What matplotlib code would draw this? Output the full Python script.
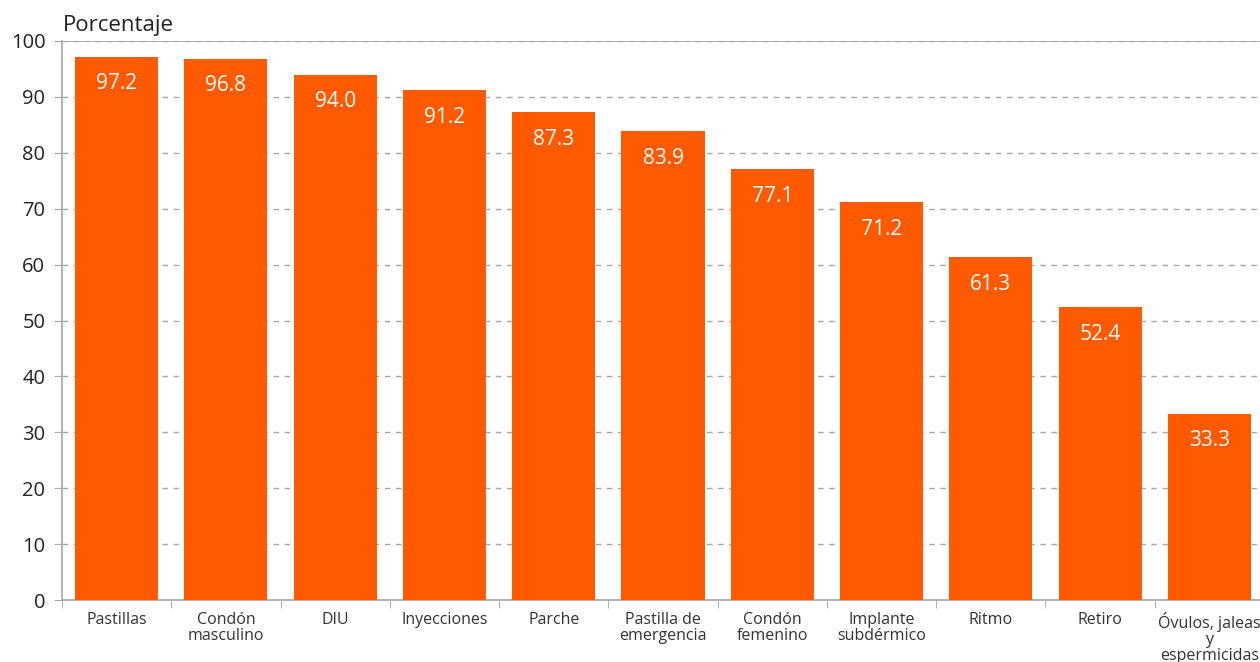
import matplotlib
matplotlib.use("Agg")
import matplotlib.pyplot as plt
import numpy as np

# data
categorias = ["Pastillas", "Condón\nmasculino", "DIU", "Inyecciones", "Parche",
              "Pastilla de\nemergencia", "Condón\nfemenino", "Implante\nsubdérmico",
              "Ritmo", "Retiro", "Óvulos, jaleas\ny\nespermicidas"]
porcentajes = [97.2, 96.8, 94.0, 91.2, 87.3, 83.9, 77.1, 71.2, 61.3, 52.4, 33.3]

naranja = "#FF5A00"
gris = "#A6A6A6"

plt.rcParams['font.family'] = ['Open Sans', 'DejaVu Sans']

fig = plt.figure(figsize=(12.6, 6.62), dpi=100)
ax = fig.add_axes([62/1260, 62/662, 1202/1260, 559/662])

x = np.arange(len(categorias))
bars = ax.bar(x, porcentajes, width=0.76, color=naranja, zorder=3)

for xi, v in zip(x, porcentajes):
    ax.annotate(f"{v:.1f}", (xi, v), xytext=(0, -19.5), textcoords="offset points",
                ha="center", va="center", color="white", fontsize=15, zorder=4)

ax.set_xlim(-0.5, len(categorias) - 0.5)
ax.set_ylim(0, 100)
ax.set_yticks(np.arange(0, 101, 10))
ax.tick_params(axis="y", labelsize=14.5, color=gris, length=6, pad=6, labelcolor="#222222")

ax.set_xticks(x)
ax.set_xticklabels(categorias, fontsize=11.5, color="#333333", linespacing=1.0)
ax.set_xticks(np.arange(-0.5, len(categorias), 1), minor=True)
ax.tick_params(axis="x", which="major", length=0, pad=9)
ax.tick_params(axis="x", which="minor", length=6, color=gris)

ax.yaxis.grid(True, linestyle=(0, (4, 4)), color=gris, linewidth=1, zorder=0)
ax.axhline(100, color=gris, linewidth=1.2, zorder=1)

for s in ["top", "right"]:
    ax.spines[s].set_visible(False)
for s in ["left", "bottom"]:
    ax.spines[s].set_color(gris)
    ax.spines[s].set_linewidth(1.2)

fig.text(63/1260, 1 - 26/662, "Porcentaje", fontsize=16, va="center", ha="left", color="#222222")

fig.savefig("out.png", dpi=100)
